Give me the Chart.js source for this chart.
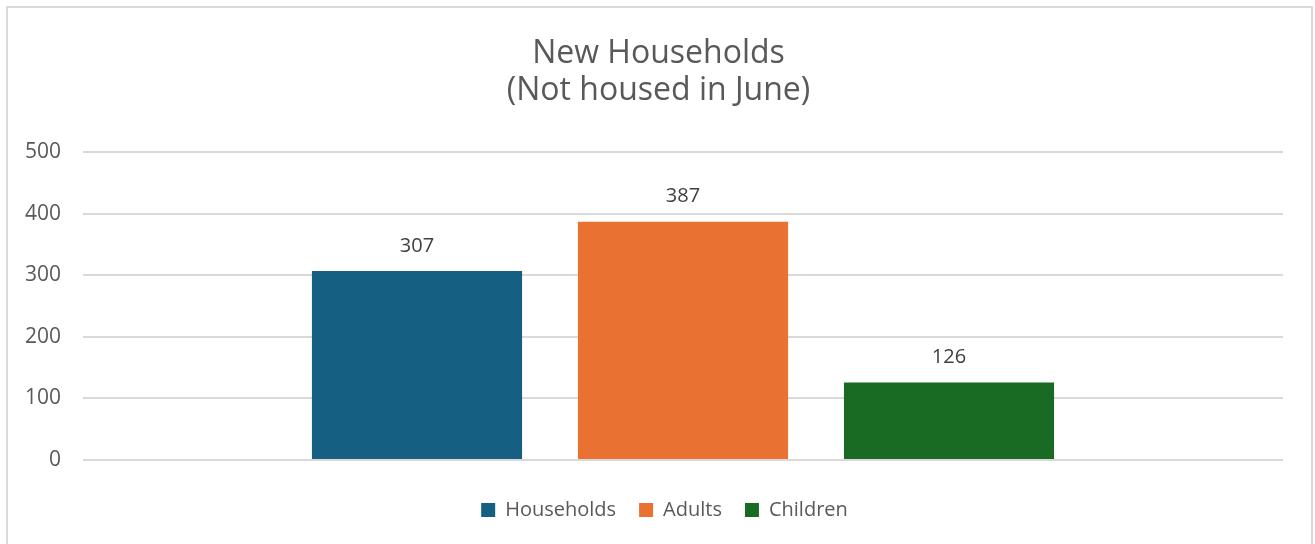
<!DOCTYPE html>
<html>
<head>
<meta charset="utf-8">
<script src="https://cdn.jsdelivr.net/npm/chart.js@4.4.0/dist/chart.umd.min.js"></script>
<style>
  html, body { margin: 0; padding: 0; background: #fff; overflow: hidden; }
  #frame { position: absolute; left: 6px; top: 6px; width: 1303px; height: 580px; border: 2px solid #d9d9d9; }
  #wrap { position: absolute; left: 0; top: 0; width: 1315px; height: 544px; }
</style>
</head>
<body>
<div id="frame"></div>
<div id="wrap"><canvas id="myChart" width="1315" height="544"></canvas></div>
<script>
// chart data
var categories = [''];
var seriesNames = ['Households', 'Adults', 'Children'];
var seriesValues = [[307], [387], [126]];
var seriesColors = ['#156082', '#E97132', '#196B24'];
var yTicks = [0, 100, 200, 300, 400, 500];

var textColor = '#595959';
var fontFam = '"Open Sans", "Liberation Sans", sans-serif';

// draw the value over each bar
var valueLabels = {
    id: 'valueLabels',
    afterDatasetsDraw: function (chart) {
        var ctx = chart.ctx;
        ctx.save();
        ctx.font = '20px ' + fontFam;
        ctx.fillStyle = '#404040';
        ctx.textAlign = 'center';
        ctx.textBaseline = 'middle';
        chart.data.datasets.forEach(function (ds, i) {
            var meta = chart.getDatasetMeta(i);
            meta.data.forEach(function (bar, j) {
                ctx.fillText(ds.data[j], bar.x, bar.y - 25);
            });
        });
        ctx.restore();
    }
};

// title and legend sit a bit right of centre in the original
var boxShift = {
    id: 'boxShift',
    afterLayout: function (chart) {
        chart.legend.left += 11;
        chart.legend.right += 11;
        chart.titleBlock.left += 5;
        chart.titleBlock.right += 5;
    }
};

var datasets = [];
for (var i = 0; i < seriesNames.length; i++) {
    datasets.push({
        label: seriesNames[i],
        data: seriesValues[i],
        backgroundColor: seriesColors[i],
        borderWidth: 0,
        categoryPercentage: 0.665,
        barPercentage: 0.79
    });
}

var chart = new Chart(document.getElementById('myChart'), {
    type: 'bar',
    data: { labels: categories, datasets: datasets },
    plugins: [valueLabels, boxShift],
    options: {
        responsive: false,
        animation: false,
        layout: { padding: { left: 24, right: 32, top: 14, bottom: 14 } },
        plugins: {
            tooltip: { enabled: false },
            title: {
                display: true,
                text: ['New Households', '(Not housed in June)'],
                color: textColor,
                font: { family: fontFam, size: 32, weight: 'normal', lineHeight: 1.16 },
                padding: { top: 21, bottom: 43 }
            },
            legend: {
                position: 'bottom',
                labels: {
                    color: textColor,
                    font: { family: fontFam, size: 20 },
                    boxWidth: 14,
                    boxHeight: 14,
                    padding: 23
                }
            }
        },
        scales: {
            x: {
                display: true,
                ticks: { display: false },
                grid: { display: false },
                border: { display: false },
                afterFit: function (axis) { axis.height = 17; }
            },
            y: {
                min: 0,
                max: 500,
                afterBuildTicks: function (axis) {
                    axis.ticks = yTicks.map(function (v) { return { value: v }; });
                },
                afterFit: function (axis) { axis.width = 59; },
                border: { display: false },
                grid: { color: '#d9d9d9', lineWidth: 2, drawTicks: false },
                ticks: {
                    color: textColor,
                    font: { family: fontFam, size: 21 },
                    padding: 22
                }
            }
        }
    }
});
</script>
</body>
</html>
